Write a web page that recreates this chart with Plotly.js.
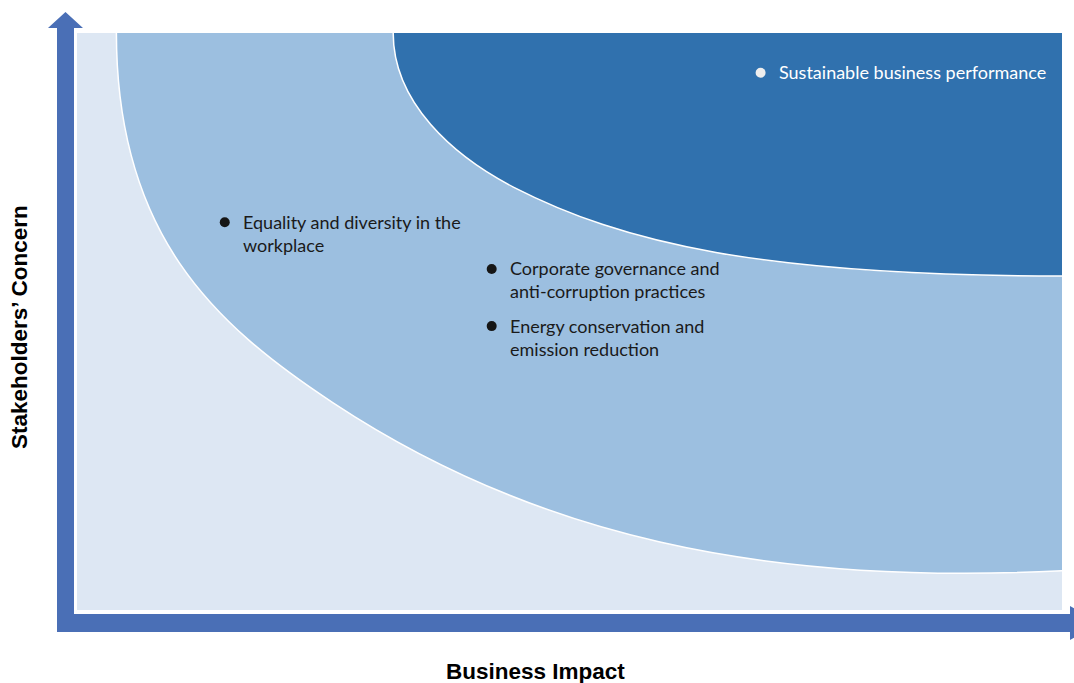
<!DOCTYPE html>
<html>
<head>
<meta charset="utf-8">
<script src="https://cdn.plot.ly/plotly-3.0.1.min.js"></script>
<style>html,body{margin:0;padding:0;background:#fff;}#chart{width:1074px;height:683px;}</style>
</head>
<body>
<div id="chart"></div>
<script>
// ---- Data (Business Impact = x, Stakeholders' Concern = y, scale 0-10) ----
const topics = [
  'Sustainable business performance',
  'Equality and diversity in the<br>workplace',
  'Corporate governance and<br>anti-corruption practices',
  'Energy conservation and<br>emission reduction'
];
const businessImpact = [6.94, 1.50, 4.21, 4.21];
const stakeholderConcern = [9.31, 6.72, 5.91, 4.92];

// medium-priority zone boundary: start point + two cubic Bezier segments (control, control, end)
const midZoneX = [0.40, 0.40, 1.38, 2.60, 4.63, 6.95, 10.0];
const midZoneY = [10.0, 6.53, 4.96, 3.59, 1.30, 0.42, 0.68];
// high-priority zone boundary: same layout
const highZoneX = [3.21, 3.21, 3.82, 4.43, 5.54, 6.95, 10.0];
const highZoneY = [10.0, 8.79, 7.87, 7.33, 6.36, 5.79, 5.79];

const axisMax = 10;
const xAxisTitle = 'Business Impact';
const yAxisTitle = 'Stakeholders\u2019 Concern';

// ---- Styling ----
const W = 1074, H = 683;
const M = {l: 77, r: 12, t: 33, b: 73};
const plotW = W - M.l - M.r, plotH = H - M.t - M.b;
const px = x => (x - M.l) / plotW;           // pixel -> paper x (decorations only)
const py = y => (H - M.b - y) / plotH;       // pixel -> paper y
const pt = (x, y) => px(x).toFixed(5) + ',' + py(y).toFixed(5);

const cLight = '#dde7f3', cMid = '#9cbfe0', cDark = '#3071ae', cAxis = '#4a6fb6';

// build a closed zone path (closing through the clipped top-right corner)
function zonePath(xs, ys) {
  const p = i => xs[i] + ',' + ys[i];
  const o = axisMax + 1;
  return 'M' + p(0) + ' C' + p(1) + ' ' + p(2) + ' ' + p(3) +
         ' C' + p(4) + ' ' + p(5) + ' ' + p(6) +
         ' L' + o + ',' + ys[6] + ' L' + o + ',' + o + ' L' + xs[0] + ',' + o + ' Z';
}

const traces = [
  {x: businessImpact, y: stakeholderConcern, type: 'scatter', mode: 'markers',
   marker: {size: 10, color: ['#eeeeee', '#161616', '#161616', '#161616'], line: {width: 0}},
   text: topics, hoverinfo: 'text'}
];

const annotations = topics.map((t, i) => ({
  x: businessImpact[i], y: stakeholderConcern[i], xref: 'x', yref: 'y',
  text: t, showarrow: false, xanchor: 'left', yanchor: 'top', align: 'left',
  xshift: 16, yshift: 13.5,
  font: {family: 'Lato, "Open Sans", sans-serif', size: 18, color: i === 0 ? '#ffffff' : '#1a1a1a'}
}));
annotations.push({
  xref: 'paper', yref: 'paper', x: px(535), y: py(671), xanchor: 'center', yanchor: 'middle',
  text: '<b>' + xAxisTitle + '</b>', showarrow: false,
  font: {family: '"Liberation Sans", Arial, sans-serif', size: 22.5, color: '#000'}
});
annotations.push({
  xref: 'paper', yref: 'paper', x: px(20), y: py(327), xanchor: 'center', yanchor: 'middle',
  text: '<b>' + yAxisTitle + '</b>', showarrow: false, textangle: -90,
  font: {family: '"Liberation Sans", Arial, sans-serif', size: 22.5, color: '#000'}
});

const vArrow = 'M' + pt(57, 632) + ' L' + pt(57, 28) + ' L' + pt(48, 28) + ' L' + pt(65.5, 12) +
  ' L' + pt(83, 28) + ' L' + pt(74, 28) + ' L' + pt(74, 632) + ' Z';
const hArrow = 'M' + pt(57, 614) + ' L' + pt(1070, 614) + ' L' + pt(1070, 606) + ' L' + pt(1100, 623) +
  ' L' + pt(1070, 640) + ' L' + pt(1070, 632) + ' L' + pt(57, 632) + ' Z';

const layout = {
  width: W, height: H,
  margin: {l: M.l, r: M.r, t: M.t, b: M.b, pad: 0},
  paper_bgcolor: '#ffffff', plot_bgcolor: cLight,
  showlegend: false,
  xaxis: {range: [0, axisMax], visible: false, fixedrange: true},
  yaxis: {range: [0, axisMax], visible: false, fixedrange: true},
  shapes: [
    {type: 'path', xref: 'x', yref: 'y', path: zonePath(midZoneX, midZoneY),
     fillcolor: cMid, line: {width: 1.5, color: '#ffffff'}, layer: 'below'},
    {type: 'path', xref: 'x', yref: 'y', path: zonePath(highZoneX, highZoneY),
     fillcolor: cDark, line: {width: 1.5, color: '#ffffff'}, layer: 'below'},
    {type: 'path', xref: 'paper', yref: 'paper', path: vArrow, fillcolor: cAxis, line: {width: 0}, layer: 'above'},
    {type: 'path', xref: 'paper', yref: 'paper', path: hArrow, fillcolor: cAxis, line: {width: 0}, layer: 'above'}
  ],
  annotations: annotations
};

Plotly.newPlot('chart', traces, layout, {displayModeBar: false, staticPlot: true});
</script>
</body>
</html>
